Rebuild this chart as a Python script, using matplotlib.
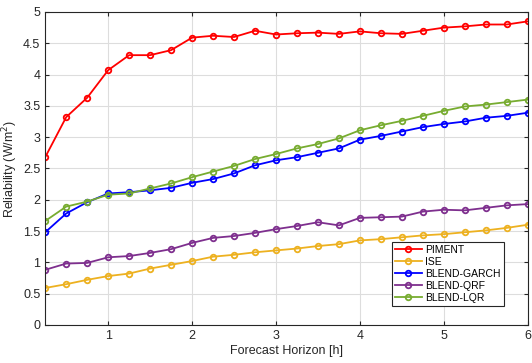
import matplotlib.pyplot as plt

plt.rcParams['font.family'] = ['Liberation Sans', 'DejaVu Sans']

# forecast horizons in hours (15 min steps)
horizon = [0.25 * (i + 1) for i in range(24)]

piment = [2.68, 3.32, 3.63, 4.07, 4.31, 4.31, 4.39, 4.59, 4.62, 4.60, 4.70, 4.64,
          4.66, 4.67, 4.65, 4.69, 4.66, 4.65, 4.70, 4.75, 4.77, 4.80, 4.80, 4.85]
ise = [0.59, 0.65, 0.72, 0.78, 0.82, 0.90, 0.96, 1.02, 1.09, 1.12, 1.16, 1.19,
       1.22, 1.26, 1.29, 1.35, 1.37, 1.40, 1.43, 1.45, 1.48, 1.51, 1.55, 1.60]
blend_garch = [1.48, 1.78, 1.96, 2.10, 2.12, 2.15, 2.19, 2.27, 2.33, 2.42, 2.55, 2.63,
               2.68, 2.75, 2.82, 2.96, 3.02, 3.09, 3.16, 3.21, 3.25, 3.31, 3.34, 3.39]
blend_qrf = [0.88, 0.98, 0.99, 1.08, 1.10, 1.15, 1.21, 1.31, 1.39, 1.42, 1.47, 1.53,
             1.58, 1.64, 1.59, 1.71, 1.72, 1.73, 1.81, 1.84, 1.83, 1.87, 1.91, 1.93]
blend_lqr = [1.66, 1.89, 1.97, 2.08, 2.10, 2.18, 2.26, 2.36, 2.45, 2.54, 2.65, 2.73,
             2.82, 2.89, 2.98, 3.11, 3.19, 3.26, 3.34, 3.42, 3.49, 3.52, 3.56, 3.60]

series = [
    ("PIMENT", piment, "#FF0000"),
    ("ISE", ise, "#EDB120"),
    ("BLEND-GARCH", blend_garch, "#0000FF"),
    ("BLEND-QRF", blend_qrf, "#7E2F8E"),
    ("BLEND-LQR", blend_lqr, "#77AC30"),
]

fig = plt.figure(figsize=(5.32, 3.63), dpi=100)
ax = fig.add_axes([0.085, 0.105, 0.907, 0.862])

for name, vals, col in series:
    ax.plot(horizon, vals, color=col, lw=1.3, marker='o', ms=4,
            mfc='none', mew=1.3, label=name)

ax.set_xlim(0.25, 6)
ax.set_ylim(0, 5)
ax.set_xticks([1, 2, 3, 4, 5, 6])
ax.set_yticks([0, 0.5, 1, 1.5, 2, 2.5, 3, 3.5, 4, 4.5, 5])
ax.set_yticklabels(['0', '0.5', '1', '1.5', '2', '2.5', '3', '3.5', '4', '4.5', '5'])
ax.grid(True, color='#dddddd', lw=0.8)
ax.set_axisbelow(True)
ax.tick_params(direction='in', top=True, right=True, labelsize=9, colors='#262626',
               length=3)
for s in ax.spines.values():
    s.set_color('#262626')
    s.set_linewidth(0.8)

ax.set_xlabel("Forecast Horizon [h]", fontsize=9, color='#262626', labelpad=2)
ax.set_ylabel("Reliability (W/m$^2$)", fontsize=9, color='#262626', labelpad=2)

leg = ax.legend(loc='lower right', bbox_to_anchor=(0.95, 0.06), fontsize=7.5,
                fancybox=False, framealpha=1, edgecolor='#262626',
                handlelength=2.6, handletextpad=0.3, borderpad=0.3,
                labelspacing=0.2, borderaxespad=0)
leg.get_frame().set_linewidth(0.8)

fig.savefig("out.png", dpi=100)
